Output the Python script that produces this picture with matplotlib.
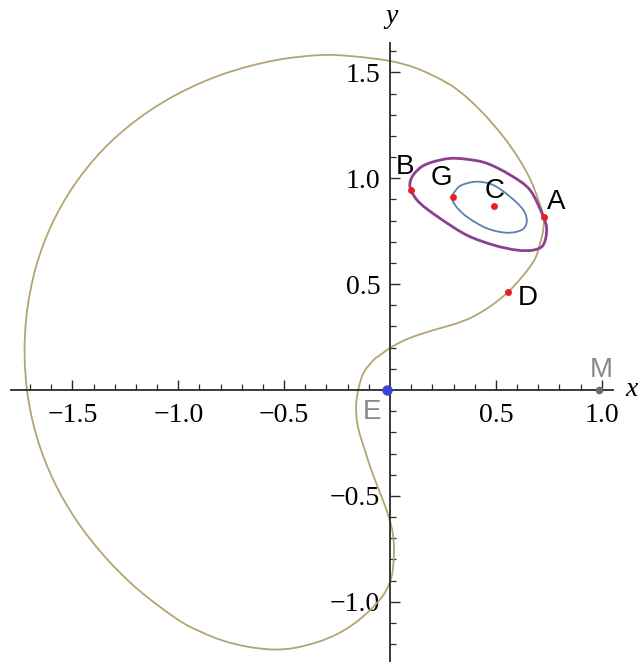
import matplotlib
matplotlib.use("Agg")
import matplotlib.pyplot as plt
from matplotlib.path import Path
from matplotlib.patches import PathPatch
from matplotlib.ticker import FixedLocator, FuncFormatter

# ---- data ----
olive_x = [-0.331, -0.173, 0.005, 0.142, 0.299, 0.425, 0.535, 0.610, 0.665, 0.700, 0.726,
           0.722, 0.709, 0.690, 0.661, 0.620, 0.556, 0.472, 0.390, 0.315, 0.230, 0.157,
           0.080, 0.011, -0.040, -0.079, -0.126, -0.150, -0.160, -0.157, -0.144, -0.120,
           -0.094, -0.062, -0.030, -0.004, 0.012, 0.019, 0.017, 0.010, -0.008, -0.036,
           -0.094, -0.170, -0.250, -0.340, -0.450, -0.550, -0.671, -0.789, -0.901, -1.006,
           -1.192, -1.350, -1.483, -1.588, -1.664, -1.710, -1.726, -1.714, -1.673, -1.600,
           -1.495, -1.358, -1.191, -0.998, -0.783, -0.550]
olive_y = [1.582, 1.576, 1.553, 1.513, 1.432, 1.323, 1.197, 1.090, 0.990, 0.900, 0.817,
           0.745, 0.693, 0.630, 0.582, 0.530, 0.461, 0.394, 0.345, 0.315, 0.290, 0.268,
           0.240, 0.205, 0.170, 0.140, 0.079, 0.000, -0.070, -0.140, -0.205, -0.280,
           -0.362, -0.448, -0.530, -0.605, -0.670, -0.740, -0.805, -0.870, -0.925, -0.975,
           -1.040, -1.104, -1.153, -1.190, -1.218, -1.226, -1.213, -1.184, -1.139, -1.082,
           -0.941, -0.784, -0.613, -0.430, -0.236, -0.035, 0.170, 0.375, 0.579, 0.777,
           0.963, 1.133, 1.280, 1.401, 1.494, 1.556]

purple_x = [0.094, 0.110, 0.150, 0.205, 0.283, 0.362, 0.457, 0.567, 0.661, 0.724, 0.740,
            0.724, 0.677, 0.598, 0.488, 0.362, 0.236, 0.142, 0.102]
purple_y = [0.976, 1.016, 1.055, 1.078, 1.094, 1.090, 1.071, 1.016, 0.945, 0.819, 0.756,
            0.685, 0.661, 0.661, 0.685, 0.732, 0.811, 0.882, 0.937]

blue_x = [0.294, 0.312, 0.339, 0.409, 0.488, 0.567, 0.630, 0.646, 0.622, 0.551, 0.457,
          0.362, 0.307]
blue_y = [0.913, 0.945, 0.968, 0.984, 0.968, 0.913, 0.850, 0.795, 0.756, 0.743, 0.764,
          0.819, 0.874]

red_names = ["A", "B", "G", "C", "D"]
red_x = [0.726, 0.101, 0.296, 0.493, 0.556]
red_y = [0.817, 0.943, 0.914, 0.869, 0.461]
label_x = [0.787, 0.071, 0.244, 0.493, 0.653]
label_y = [0.886, 1.055, 1.000, 0.941, 0.433]

earth = (-0.01215, 0.0)
moon = (0.98785, 0.0)

x_major = [-1.5, -1.0, -0.5, 0.5, 1.0]
y_major = [-1.0, -0.5, 0.5, 1.0, 1.5]


def closed_smooth_path(xs, ys):
    """Closed Catmull-Rom curve through the traced points, as cubic Bezier path."""
    n = len(xs)
    verts = [(xs[0], ys[0])]
    codes = [Path.MOVETO]
    for i in range(n):
        p0 = (xs[i - 1], ys[i - 1])
        p1 = (xs[i], ys[i])
        p2 = (xs[(i + 1) % n], ys[(i + 1) % n])
        p3 = (xs[(i + 2) % n], ys[(i + 2) % n])
        c1 = (p1[0] + (p2[0] - p0[0]) / 6, p1[1] + (p2[1] - p0[1]) / 6)
        c2 = (p2[0] - (p3[0] - p1[0]) / 6, p2[1] - (p3[1] - p1[1]) / 6)
        verts += [c1, c2, p2]
        codes += [Path.CURVE4] * 3
    return Path(verts, codes)


# ---- figure ----
S = 211.7
fig = plt.figure(figsize=(6.38, 6.62), dpi=100)
ax = fig.add_axes([0, 0, 1, 1])
ax.set_xlim(-390 / S, 248 / S)
ax.set_ylim(-272 / S, 390 / S)
ax.patch.set_alpha(0)

axcol = "#2a2a2a"
for s in ["top", "right"]:
    ax.spines[s].set_visible(False)
ax.spines["left"].set_position(("data", 0))
ax.spines["bottom"].set_position(("data", 0))
ax.spines["bottom"].set_bounds(-1.79, 1.053)
ax.spines["left"].set_bounds(-1.29, 1.64)
for s in ["left", "bottom"]:
    ax.spines[s].set_color(axcol)
    ax.spines[s].set_linewidth(1.3)

xminor = [k / 10 for k in range(-17, 11) if k % 5 != 0]
yminor = [k / 10 for k in range(-12, 17) if k % 5 != 0]
ax.xaxis.set_major_locator(FixedLocator(x_major))
ax.yaxis.set_major_locator(FixedLocator(y_major))
ax.xaxis.set_minor_locator(FixedLocator(xminor))
ax.yaxis.set_minor_locator(FixedLocator(yminor))
fmt = FuncFormatter(lambda v, p: f"{v:.1f}".replace("-", "\u2212"))
ax.xaxis.set_major_formatter(fmt)
ax.yaxis.set_major_formatter(fmt)
ax.tick_params(which="major", direction="in", length=7, width=1.0, color=axcol,
               labelsize=20, pad=9)
ax.tick_params(which="minor", direction="in", length=4, width=0.9, color=axcol)
ax.tick_params(axis="y", which="major", pad=7)
for lab in ax.get_xticklabels() + ax.get_yticklabels():
    lab.set_fontfamily("Liberation Serif")

ax.add_patch(PathPatch(closed_smooth_path(olive_x, olive_y), fill=False,
                       edgecolor="#b3a571", lw=1.3, zorder=2))
ax.add_patch(PathPatch(closed_smooth_path(purple_x, purple_y), fill=False,
                       edgecolor="#8e3f92", lw=2.0, zorder=3))
ax.add_patch(PathPatch(closed_smooth_path(blue_x, blue_y), fill=False,
                       edgecolor="#5b7fae", lw=1.3, zorder=3))

ax.plot(red_x, red_y, "o", color="#e8201e", ms=5, mec="none", zorder=5)
ax.plot([earth[0]], [earth[1]], "o", color="#3b44d4", ms=7.5, mec="none", zorder=5)
ax.plot([moon[0]], [moon[1]], "o", color="#6d6d6d", ms=5.5, mec="none", zorder=5)

for n, lx, ly in zip(red_names, label_x, label_y):
    ax.text(lx, ly, n, fontsize=20, family="Liberation Sans", ha="center", va="center",
            color="black", zorder=6)
ax.text(-0.086, -0.105, "E", fontsize=20, family="Liberation Sans", ha="center",
        va="center", color="#888888")
ax.text(0.997, 0.094, "M", fontsize=20, family="Liberation Sans", ha="center",
        va="center", color="#888888")

ax.text(1.142, 0.0, "x", fontsize=20, family="Liberation Serif", style="italic",
        ha="center", va="center")
ax.text(0.008, 1.763, "y", fontsize=20, family="Liberation Serif", style="italic",
        ha="center", va="center")

fig.savefig("out.png", dpi=100)
